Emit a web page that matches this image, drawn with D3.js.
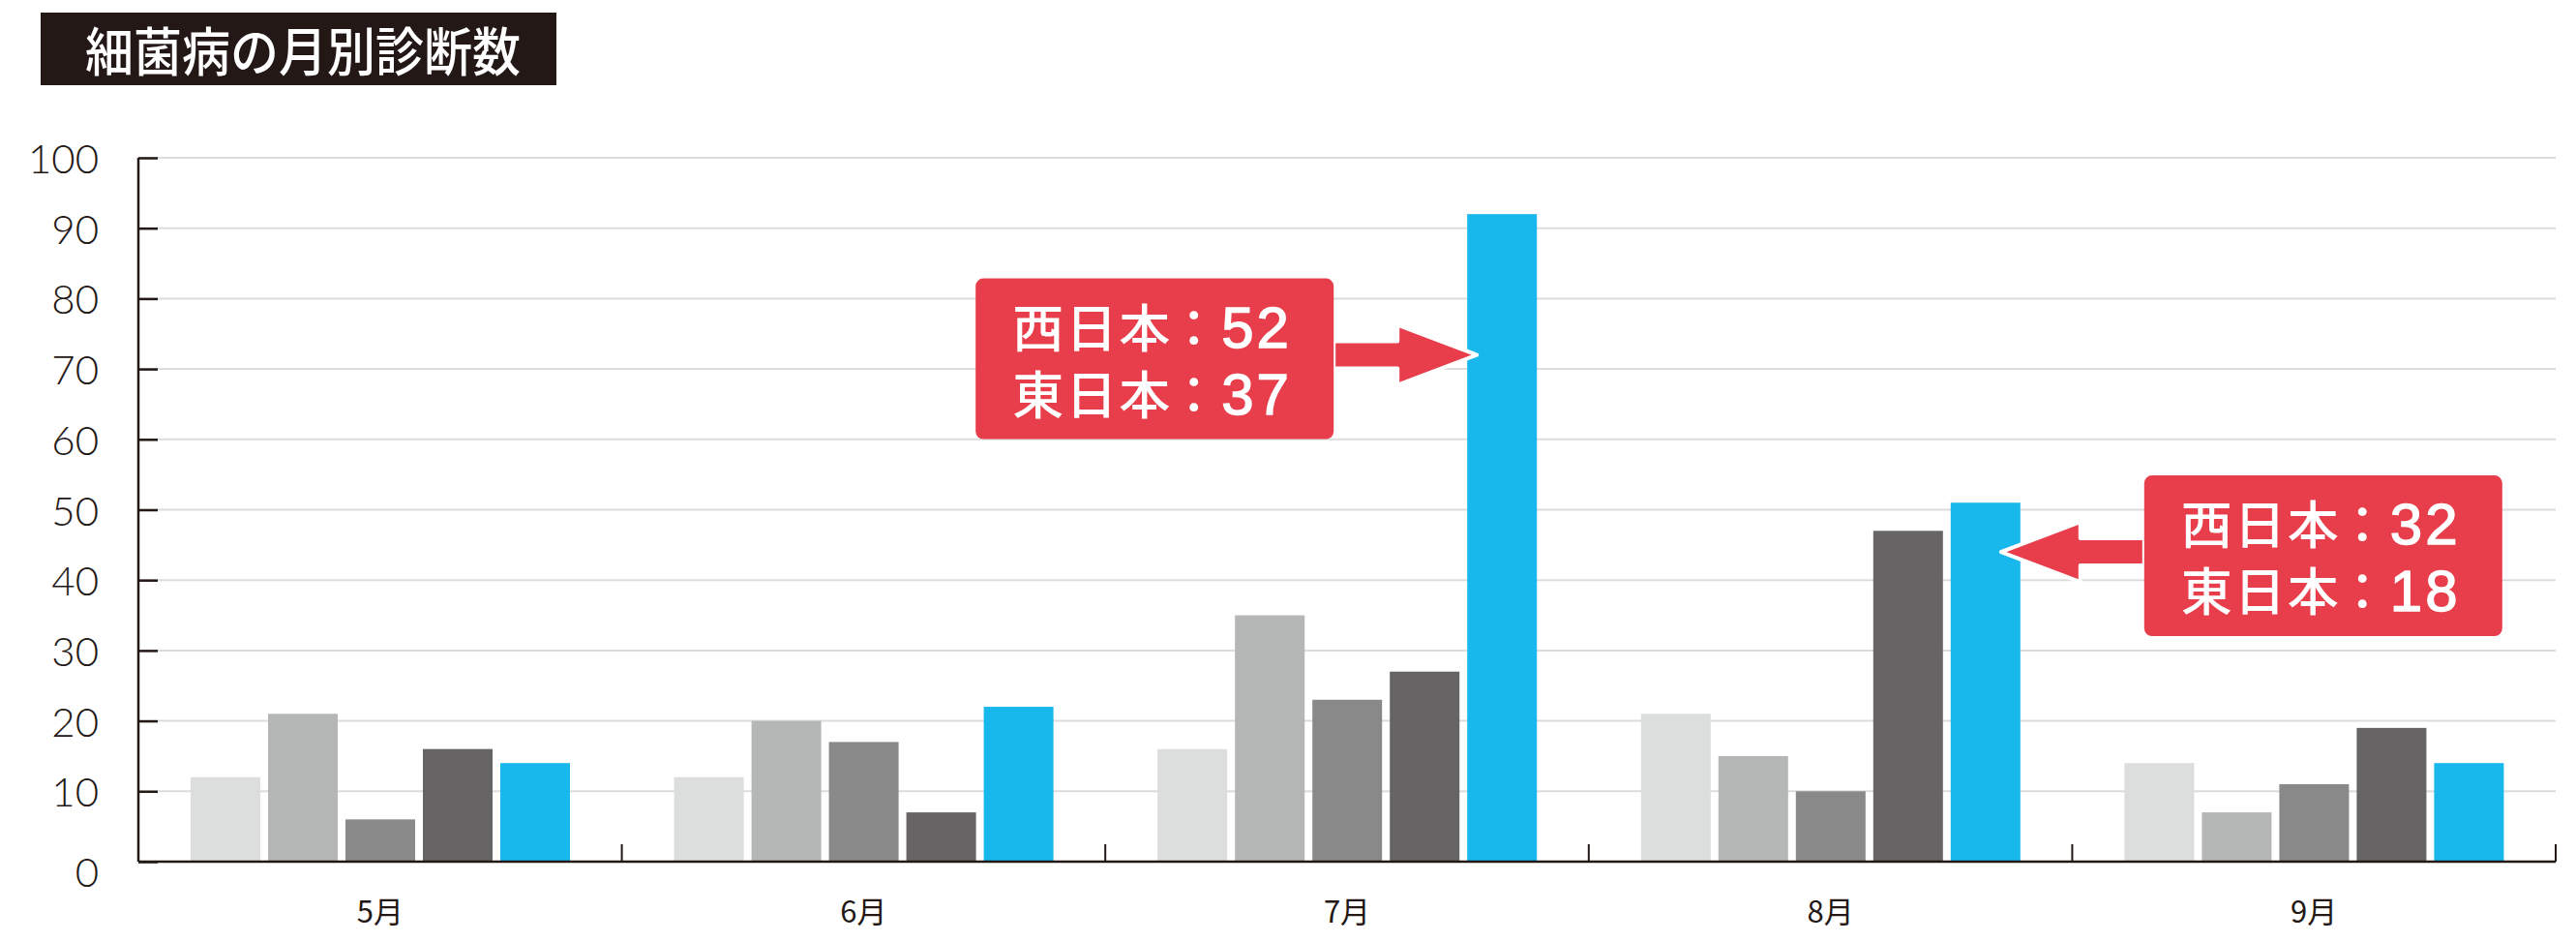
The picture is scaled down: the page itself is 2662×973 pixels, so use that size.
<!DOCTYPE html>
<html lang="ja">
<head>
<meta charset="utf-8">
<script src="https://cdn.jsdelivr.net/npm/d3@7"></script>
<style>
  html, body { margin: 0; padding: 0; background: #fff; }
  svg { display: block; }
</style>
</head>
<body>
<svg id="chart" width="2662" height="973" lang="ja"></svg>
<script>
// ---- data ----
const title = "細菌病の月別診断数";
const months = ["5月", "6月", "7月", "8月", "9月"];
const seriesKeys = ["s1", "s2", "s3", "s4", "s5"];
const series1 = [12, 12, 16, 21, 14];
const series2 = [21, 20, 35, 15, 7];
const series3 = [6, 17, 23, 10, 11];
const series4 = [16, 7, 27, 47, 19];
const series5 = [14, 22, 92, 51, 14];
const seriesColors = ["#dcdddd", "#b5b6b6", "#898989", "#666464", "#18b7ec"];
const yTicks = [0, 10, 20, 30, 40, 50, 60, 70, 80, 90, 100];
const calloutMonths = ["7月", "8月"];
const calloutTargets = [72, 44];
const calloutRegions = ["西日本", "東日本"];
const calloutValues = [[52, 37], [32, 18]];
const calloutSides = ["left", "right"];

const allSeries = [series1, series2, series3, series4, series5];

const svg = d3.select("#chart");
const dark = "#231815";

// ---- scales ----
const x0 = d3.scaleBand().domain(months).range([143, 2641]).paddingInner(0).paddingOuter(0);
const x1 = d3.scaleBand().domain(seriesKeys).range([54, 446]).paddingInner(0.1).paddingOuter(0);
const y = d3.scaleLinear().domain([0, 100]).range([890, 163]);

// ---- title ----
const tg = svg.append("g");
tg.append("rect").attr("x", 42).attr("y", 13).attr("width", 533).attr("height", 75).attr("fill", dark);
tg.append("text").attr("x", 88).attr("y", 50)
  .attr("dominant-baseline", "central")
  .attr("fill", "#fff").attr("font-family", "'Noto Sans CJK JP', sans-serif")
  .attr("font-size", 54).attr("font-weight", 500)
  .attr("textLength", 450).attr("lengthAdjust", "spacingAndGlyphs")
  .text(title);

// ---- gridlines ----
svg.append("g").selectAll("line").data(yTicks.filter(d => d > 0)).join("line")
  .attr("x1", 143).attr("x2", 2641)
  .attr("y1", d => y(d)).attr("y2", d => y(d))
  .attr("stroke", "#dcdcdc").attr("stroke-width", 2);

// ---- bars ----
const groups = svg.append("g").selectAll("g").data(months).join("g")
  .attr("transform", d => `translate(${x0(d)},0)`);
groups.selectAll("rect")
  .data((m, i) => seriesKeys.map((k, j) => ({ key: k, value: allSeries[j][i], color: seriesColors[j] })))
  .join("rect")
  .attr("x", d => x1(d.key))
  .attr("width", x1.bandwidth())
  .attr("y", d => y(d.value))
  .attr("height", d => y(0) - y(d.value))
  .attr("fill", d => d.color);

// ---- y axis ----
const yAxis = d3.axisRight(y).tickValues(yTicks).tickSize(20).tickFormat("");
const yg = svg.append("g").attr("transform", "translate(143,0)").call(yAxis);
yg.select(".domain").attr("stroke", dark).attr("stroke-width", 2.5).attr("d", `M0,${y(100)}V${y(0)}`);
yg.selectAll(".tick line").attr("stroke", dark).attr("stroke-width", 2.5);
svg.append("g").selectAll("text").data(yTicks).join("text")
  .attr("x", 102).attr("y", d => y(d) + (d === 0 ? 10 : 0))
  .attr("text-anchor", "end").attr("dominant-baseline", "central")
  .attr("fill", dark).attr("font-family", "Lato, 'Noto Sans', sans-serif")
  .attr("font-weight", 300).attr("font-size", 42)
  .text(d => d);

// ---- x axis ----
const xAxis = d3.axisBottom(x0).tickSize(0).tickFormat("");
const xg = svg.append("g").attr("transform", `translate(0,${y(0)})`).call(xAxis);
xg.select(".domain").attr("stroke", dark).attr("stroke-width", 2.5).attr("d", `M143,0H2641`);
const bounds = months.slice(1).map(m => x0(m)).concat([x0.range()[1]]);
svg.append("g").selectAll("line").data(bounds).join("line")
  .attr("x1", d => d).attr("x2", d => d)
  .attr("y1", y(0)).attr("y2", y(0) - 18)
  .attr("stroke", dark).attr("stroke-width", 2);
svg.append("g").selectAll("text").data(months).join("text")
  .attr("x", d => x0(d) + x0.bandwidth() / 2).attr("y", 939)
  .attr("text-anchor", "middle").attr("dominant-baseline", "central")
  .attr("fill", dark).attr("font-family", "'Noto Sans CJK JP', sans-serif")
  .attr("font-size", 31)
  .text(d => d);

// ---- callouts ----
const red = "#e83d4a";
const boxW = 370, boxH = 166, gapLen = 148, headLen = 82, headHalf = 31, shaftHalf = 14;
calloutMonths.forEach((m, i) => {
  const bx = x0(m) + x1("s5");
  const tipY = y(calloutTargets[i]);
  const g = svg.append("g");
  let tipX, baseX, boxEdge, boxX;
  if (calloutSides[i] === "left") {
    tipX = bx + 10;
    boxEdge = tipX - gapLen;
    baseX = tipX - headLen;
    boxX = boxEdge - boxW;
  } else {
    tipX = bx + x1.bandwidth() - 20;
    boxEdge = tipX + gapLen;
    baseX = tipX + headLen;
    boxX = boxEdge;
  }
  const pts = [
    [boxEdge, tipY - shaftHalf], [baseX, tipY - shaftHalf], [baseX, tipY - headHalf],
    [tipX, tipY], [baseX, tipY + headHalf], [baseX, tipY + shaftHalf], [boxEdge, tipY + shaftHalf]
  ];
  g.append("polygon").attr("points", pts.map(p => p.join(",")).join(" "))
    .attr("fill", red).attr("stroke", "#fff").attr("stroke-width", 4).attr("stroke-linejoin", "round");
  const boxY = tipY + 4 - boxH / 2;
  g.append("rect").attr("x", boxX).attr("y", boxY).attr("width", boxW).attr("height", boxH)
    .attr("rx", 8).attr("fill", red);
  calloutRegions.forEach((region, k) => {
    const base = boxY + 71 + k * 69;
    const t = g.append("text")
      .attr("y", base)
      .attr("fill", "#fff")
      .attr("font-family", "'Liberation Sans', Arial, 'Noto Sans CJK JP', sans-serif");
    t.append("tspan").attr("x", boxX + 38)
      .attr("font-family", "'Liberation Sans', 'Noto Sans CJK JP', sans-serif")
      .attr("font-size", 53).attr("font-weight", 500).attr("letter-spacing", 2)
      .text(region);
    t.append("tspan").attr("x", boxX + 199)
      .attr("font-family", "'Liberation Sans', 'Noto Sans CJK JP', sans-serif")
      .attr("font-size", 53).attr("font-weight", 500)
      .text("：");
    t.append("tspan").attr("x", boxX + 254)
      .attr("font-size", 60).attr("font-weight", 400).attr("letter-spacing", 3)
      .attr("stroke", "#fff").attr("stroke-width", 1.4)
      .text(calloutValues[i][k]);
  });
});
</script>
</body>
</html>
